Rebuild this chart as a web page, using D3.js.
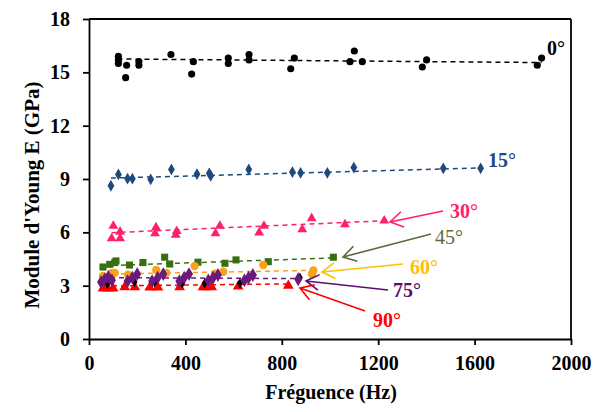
<!DOCTYPE html>
<html><head><meta charset="utf-8">
<script src="https://cdn.jsdelivr.net/npm/d3@7/dist/d3.min.js"></script>
<style>
body{margin:0;background:#fff;}
svg{display:block;}
text{font-family:"Liberation Serif","Times New Roman",serif;}
</style></head>
<body><svg id="c" width="593" height="412"></svg>
<script>
// ---- data ----
const xTicks = [0, 400, 800, 1200, 1600, 2000];
const yTicks = [0, 3, 6, 9, 12, 15, 18];
const xTitle = "Fréguence (Hz)";
const yTitle = "Module d'Young E (GPa)";

const s0x = [122,122,122,156,152,207,207,340,433,426,578,578,664,664,852,837,1101,1083,1134,1401,1383,1860,1878];
const s0y = [15.9,15.7,15.5,15.4,14.7,15.6,15.4,16.0,15.6,14.9,15.8,15.5,16.0,15.7,15.8,15.2,16.2,15.6,15.6,15.7,15.3,15.4,15.8];
const s0trend = [[118,15.75],[1878,15.55]];

const s15x = [91,122,160,180,256,342,448,499,505,663,844,878,989,1099,1470,1625];
const s15y = [8.62,9.26,9.02,9.02,8.98,9.54,9.28,9.32,9.18,9.54,9.39,9.34,9.35,9.64,9.6,9.6];
const s15trend = [[91,9.05],[1625,9.62]];

const s30x = [101,94,129,129,278,274,364,360,543,525,726,706,885,924,1062,1225];
const s30y = [6.36,5.66,6.03,5.66,6.28,5.94,6.07,5.85,6.36,5.94,6.36,5.98,6.17,6.79,6.45,6.65];
const s30trend = [[94,5.98],[1225,6.65]];

const s45x = [58,86,107,112,168,224,314,335,452,564,610,744,1014];
const s45y = [4.05,4.2,4.3,4.39,4.16,4.3,4.6,4.22,4.32,4.26,4.45,4.35,4.6];
const s45trend = [[58,4.12],[1014,4.56]];

const s60x = [58,93,107,162,279,321,438,523,557,723,931,925];
const s60y = [3.55,3.7,3.72,3.62,3.88,3.72,4.1,3.68,3.78,4.16,3.85,3.65];
const s60trend = [[58,3.65],[931,3.86]];

const s75x = [50,65,80,95,160,180,200,262,285,308,375,395,415,495,515,535,645,662,680,868];
const s75y = [3.2,3.35,3.5,3.3,3.25,3.45,3.65,3.25,3.45,3.65,3.25,3.45,3.65,3.3,3.45,3.6,3.3,3.45,3.6,3.36];
const s75trend = [[50,3.45],[868,3.4]];

const sBx = [76,189,272,387,480,626,875];
const sBy = [3.1,3.2,3.19,3.13,3.13,3.13,3.45];

const s90x = [58,79,100,148,190,252,286,376,473,481,509,619,827];
const s90y = [2.85,2.85,2.85,2.92,2.92,2.9,2.9,2.92,2.92,2.92,2.92,2.96,3.0];
const s90trend = [[58,2.98],[827,3.1]];

const angleLabels = ["0°","15°","30°","45°","60°","75°","90°"];

// ---- chart ----
const svg = d3.select("#c");
const L=89, R=571, T=19, B=339;
const x = d3.scaleLinear().domain([0,2000]).range([L,R]);
const y = d3.scaleLinear().domain([0,18]).range([B,T]);

// frame
svg.append("line").attr("x1",L).attr("x2",R).attr("y1",T).attr("y2",T).attr("stroke","#000").attr("stroke-width",1.8);
svg.append("line").attr("x1",R).attr("x2",R).attr("y1",T).attr("y2",B).attr("stroke","#000").attr("stroke-width",1.8);

const ya = svg.append("g").attr("transform",`translate(${L},0)`)
  .call(d3.axisLeft(y).tickValues(yTicks).tickFormat(d3.format("d")).tickSize(6).tickSizeOuter(0).tickPadding(13));
const xa = svg.append("g").attr("transform",`translate(0,${B})`)
  .call(d3.axisBottom(x).tickValues(xTicks).tickFormat(d3.format("d")).tickSize(6).tickSizeOuter(0).tickPadding(11));
[ya,xa].forEach(g=>{
  g.selectAll("path,line").attr("stroke","#000").attr("stroke-width",1.8);
  g.selectAll("text").attr("font-size",20).attr("font-weight","bold").attr("fill","#000")
   .style("font-family","'Liberation Serif',serif");
});

svg.append("text").attr("transform","translate(39,195) rotate(-90)").attr("text-anchor","middle")
  .attr("font-size",21).attr("font-weight","bold").text(yTitle);
svg.append("text").attr("x",331).attr("y",399).attr("text-anchor","middle")
  .attr("font-size",20).attr("font-weight","bold").text(xTitle);

const line = d3.line().x(d=>x(d[0])).y(d=>y(d[1]));
function trend(pts,color){
  svg.append("path").attr("d",line(pts)).attr("fill","none").attr("stroke",color)
    .attr("stroke-width",1.5).attr("stroke-dasharray","5,4");
}
function pts(xs,ys,type,size,color){
  const sym = d3.symbol().type(type).size(size);
  svg.append("g").selectAll("path").data(xs.map((v,i)=>[v,ys[i]])).join("path")
    .attr("transform",d=>`translate(${x(d[0])},${y(d[1])})`)
    .attr("d",sym).attr("fill",color);
}

// draw order: back to front
trend(s0trend,"#000");
trend(s15trend,"#1F497D");
trend(s30trend,"#FF1F6E");
trend(s45trend,"#3F7016");
trend(s60trend,"#F7A21B");
trend(s75trend,"#6B1A7B");
trend(s90trend,"#FF0000");

pts(s0x,s0y,d3.symbolCircle,40,"#000");
pts(s15x,s15y,d3.symbolDiamond,40,"#1F497D");
pts(s30x,s30y,d3.symbolTriangle,42,"#FF1F6E");
pts(s45x,s45y,d3.symbolSquare,50,"#38700F");
pts(s60x,s60y,d3.symbolCircle,55,"#F7A21B");
pts(s90x,s90y,d3.symbolTriangle,50,"#FF0000");
pts(sBx,sBy,d3.symbolDiamond,30,"#000");
pts(s75x,s75y,d3.symbolDiamond,55,"#6B1A7B");

// labels + arrows
const labels = [
  {t:angleLabels[0], x:547, y:55, c:"#000", w:"bold"},
  {t:angleLabels[1], x:488, y:167, c:"#1F497D", w:"bold"},
  {t:angleLabels[2], x:450, y:218, c:"#FF1F6E", w:"bold", a:[443,211,390,222]},
  {t:angleLabels[3], x:435, y:244, c:"#5B6B3A", w:"normal", a:[431,234,343,257]},
  {t:angleLabels[4], x:410, y:274, c:"#FFC000", w:"bold", a:[403,264,322,272]},
  {t:angleLabels[5], x:393, y:297, c:"#5C0E6E", w:"bold", a:[388,290,306,281]},
  {t:angleLabels[6], x:373, y:327, c:"#FF0000", w:"bold", a:[365,311,300,288]}
];
labels.forEach(l=>{
  svg.append("text").attr("x",l.x).attr("y",l.y).attr("font-size",20).attr("font-weight",l.w)
    .attr("fill",l.c).text(l.t);
  if(l.a){
    const [x1,y1,x2,y2]=l.a;
    const ang=Math.atan2(y2-y1,x2-x1), len=15, spread=0.55;
    const p1=[x2-len*Math.cos(ang-spread), y2-len*Math.sin(ang-spread)];
    const p2=[x2-len*Math.cos(ang+spread), y2-len*Math.sin(ang+spread)];
    svg.append("path").attr("d",`M${x1},${y1}L${x2},${y2}M${p1}L${x2},${y2}L${p2}`)
      .attr("fill","none").attr("stroke",l.c).attr("stroke-width",1.6);
  }
});
</script></body></html>
